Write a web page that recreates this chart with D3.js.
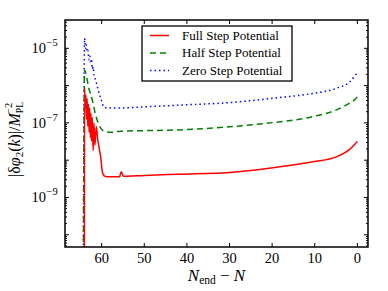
<!DOCTYPE html>
<html>
<head>
<meta charset="utf-8">
<script src="https://cdn.jsdelivr.net/npm/d3@7"></script>
<style>
  body { margin: 0; background: #fff; }
</style>
</head>
<body>
<div id="chart"></div>
<script>
// N_end - N values and |dphi2| values
var fullN   = [64.05, 64.0, 63.85, 63.7, 63.55, 63.4, 63.25, 63.1, 62.95, 62.8, 62.65, 62.5, 62.35, 62.2, 62.0, 61.8, 61.6, 61.25, 60.9, 60.2, 59.8, 59.4, 58.7, 55.8, 55.4, 54.9, 50, 41.8, 30, 19.8, 10.4, 4.9, 1.8, 0.8, 0];
var fullVal = [1e-11, 8.5e-7, 2.5e-7, 5.6e-7, 1.26e-7, 4.5e-7, 8e-8, 3.2e-7, 5.6e-8, 2.5e-7, 4e-8, 1.8e-7, 3.2e-8, 1.4e-7, 1.8e-8, 1e-7, 2.5e-8, 8e-8, 3.5e-8, 1.15e-8, 4.6e-9, 3.8e-9, 3.6e-9, 3.6e-9, 4.9e-9, 3.7e-9, 3.9e-9, 4.2e-9, 4.7e-9, 6.3e-9, 9.1e-9, 1.23e-8, 1.95e-8, 2.5e-8, 3.2e-8];

var halfN   = [64.3, 64.0, 63.0, 62.2, 61.4, 60.6, 59.4, 57.9, 55.5, 50, 41.8, 30, 19.8, 10.4, 4.9, 1.8, 0.6, 0];
var halfVal = [1e-11, 2.6e-6, 8.5e-7, 4.1e-7, 1.6e-7, 8.7e-8, 6e-8, 5.6e-8, 6e-8, 6.2e-8, 6.5e-8, 7.9e-8, 1.02e-7, 1.48e-7, 2.24e-7, 3.4e-7, 4.2e-7, 5e-7];

var zeroN   = [64.3, 64.0, 63.8, 63.6, 63.4, 63.2, 63.0, 62.8, 62.6, 62.4, 62.2, 62.0, 61.8, 61.4, 61.0, 60.6, 60.2, 59.4, 57, 50, 41.8, 30, 19.8, 10.4, 4.9, 1.8, 0.6, 0];
var zeroVal = [1e-11, 1.86e-5, 1e-5, 1.26e-5, 8.1e-6, 8.9e-6, 5e-6, 6.3e-6, 4.4e-6, 5e-6, 2.8e-6, 3.2e-6, 1.9e-6, 1.4e-6, 9.3e-7, 6.3e-7, 4.6e-7, 2.6e-7, 2.5e-7, 2.7e-7, 3e-7, 3.5e-7, 4.6e-7, 6.2e-7, 8.5e-7, 1.26e-6, 1.8e-6, 2.2e-6];

var seriesNames = ["Full Step Potential", "Half Step Potential", "Zero Step Potential"];
var xTicks = [60, 50, 40, 30, 20, 10, 0];
var yLabelExp = [-5, -7, -9];

var width = 388, height = 291;
var margin = {top: 20, right: 20, bottom: 44, left: 65};
var serif = "Liberation Serif";

var svg = d3.select("#chart").append("svg")
    .attr("width", width)
    .attr("height", height)
    .style("font-family", serif);

var x = d3.scaleLinear().domain([68.6, -2.5]).range([margin.left, width - margin.right]);
var y = d3.scaleLog().domain([4.7e-11, 5.75e-5]).range([height - margin.bottom, margin.top]);

svg.append("clipPath").attr("id", "clip")
  .append("rect")
    .attr("x", margin.left).attr("y", margin.top)
    .attr("width", width - margin.left - margin.right)
    .attr("height", height - margin.top - margin.bottom);

var series = [
  {name: seriesNames[0], n: fullN, v: fullVal, color: "#ff0000", dash: null},
  {name: seriesNames[1], n: halfN, v: halfVal, color: "#008000", dash: "6,4"},
  {name: seriesNames[2], n: zeroN, v: zeroVal, color: "#0000ff", dash: "1.5,3"}
];

var line = d3.line()
    .curve(d3.curveMonotoneX)
    .x(function(d){ return x(d[0]); })
    .y(function(d){ return y(d[1]); });

var plot = svg.append("g").attr("clip-path", "url(#clip)");
// draw zero first so red sits on top
series.slice().reverse().forEach(function(s){
  plot.append("path")
    .datum(d3.zip(s.n, s.v))
    .attr("d", line)
    .attr("fill", "none")
    .attr("stroke", s.color)
    .attr("stroke-width", 1.5)
    .attr("stroke-dasharray", s.dash);
});

// ticks (inward, like matplotlib)
var x0 = margin.left, x1 = width - margin.right, y0 = margin.top, y1 = height - margin.bottom;
var tickG = svg.append("g").attr("stroke", "#000").attr("stroke-width", 1);

xTicks.forEach(function(t){
  tickG.append("line").attr("x1", x(t)).attr("x2", x(t)).attr("y1", y1).attr("y2", y1 - 4);
  tickG.append("line").attr("x1", x(t)).attr("x2", x(t)).attr("y1", y0).attr("y2", y0 + 4);
  svg.append("text")
    .attr("x", x(t)).attr("y", y1 + 16)
    .attr("text-anchor", "middle")
    .attr("font-size", 14.5)
    .text(t);
});

for (var e = -11; e <= -4; e++) {
  for (var m = 1; m <= 9; m++) {
    var v = m * Math.pow(10, e);
    var py = y(v);
    if (py < y0 || py > y1) continue;
    var len = m === 1 ? 4 : 2;
    tickG.append("line").attr("x1", x0).attr("x2", x0 + len).attr("y1", py).attr("y2", py);
    tickG.append("line").attr("x1", x1).attr("x2", x1 - len).attr("y1", py).attr("y2", py);
  }
}

yLabelExp.forEach(function(e){
  svg.append("text")
    .attr("x", 46).attr("y", y(Math.pow(10, e)) + 5)
    .attr("text-anchor", "end")
    .attr("font-size", 14.5)
    .text("10");
  svg.append("text")
    .attr("x", 46.5).attr("y", y(Math.pow(10, e)) - 2)
    .attr("font-size", 10.5)
    .text("\u2212" + (-e));
});

// frame
svg.append("rect")
  .attr("x", x0).attr("y", y0)
  .attr("width", x1 - x0).attr("height", y1 - y0)
  .attr("fill", "none")
  .attr("stroke", "#000")
  .attr("stroke-width", 1.5);

// x label
var xl = svg.append("text")
  .attr("x", (x0 + x1) / 2).attr("y", 281)
  .attr("text-anchor", "middle")
  .attr("font-size", 17);
xl.append("tspan").attr("font-style", "italic").text("N");
xl.append("tspan").attr("dy", 3).attr("font-size", 11.5).text("end");
xl.append("tspan").attr("dy", -3).text(" \u2212 ");
xl.append("tspan").attr("font-style", "italic").text("N");

// y label, rotated
var yl = svg.append("text")
  .attr("transform", "translate(20," + ((y0 + y1) / 2 + 6) + ") rotate(-90)")
  .attr("text-anchor", "middle")
  .attr("font-size", 16);
yl.append("tspan").text("|\u03b4");
yl.append("tspan").attr("font-style", "italic").text("\u03c6");
yl.append("tspan").attr("dy", 3).attr("font-size", 11).text("2");
yl.append("tspan").attr("dy", -3).text("(");
yl.append("tspan").attr("font-style", "italic").text("k");
yl.append("tspan").text(")|/");
yl.append("tspan").attr("font-style", "italic").text("M");
yl.append("tspan").attr("dy", 3).attr("font-size", 9.5).text("PL");
yl.append("tspan").attr("dx", -12).attr("dy", -11).attr("font-size", 10.5).text("\u22122");

// legend
var lg = svg.append("g").attr("transform", "translate(142,26)");
lg.append("rect")
  .attr("width", 150).attr("height", 55)
  .attr("fill", "#fff")
  .attr("stroke", "#000")
  .attr("stroke-width", 1.3);
series.forEach(function(s, i){
  var ly = 9.5 + i * 17.5;
  lg.append("line")
    .attr("x1", 8).attr("x2", 27).attr("y1", ly).attr("y2", ly)
    .attr("stroke", s.color)
    .attr("stroke-width", 1.5)
    .attr("stroke-dasharray", s.dash);
  lg.append("text")
    .attr("x", 40).attr("y", ly + 4)
    .attr("font-size", 13)
    .text(s.name);
});
</script>
</body>
</html>
